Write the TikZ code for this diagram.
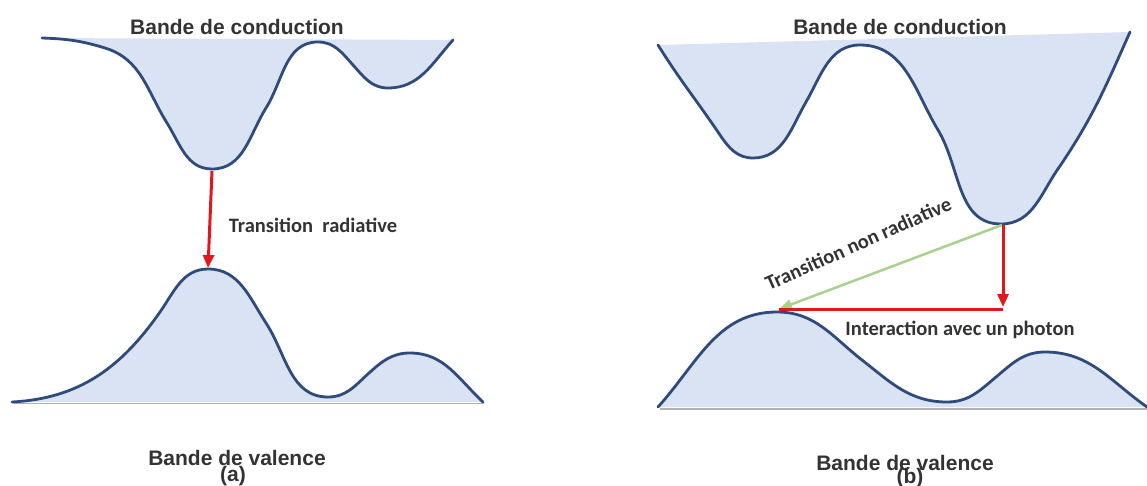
\documentclass[tikz,border=0pt]{standalone}
\usepackage{fontspec}
\setmainfont{Liberation Sans}
\newfontfamily\calfont{Carlito}
\usetikzlibrary{arrows.meta}
\definecolor{bandfill}{HTML}{DAE3F3}
\definecolor{bandline}{HTML}{2F4B7C}
\definecolor{txtgray}{HTML}{333333}
\definecolor{arrred}{HTML}{E3161C}
\definecolor{arrgreen}{HTML}{A9D18E}
\tikzset{
  bandarea/.style={fill=bandfill},
  bandcurve/.style={draw=bandline, line width=2.8pt, line cap=round, line join=round},
  baseshadow/.style={draw=gray!60, line width=1.5pt},
  bandlabel/.style={text=txtgray, font=\fontsize{21}{21}\selectfont\bfseries, inner sep=0pt},
  translabel/.style={text=txtgray, font=\calfont\fontsize{20.5}{20.5}\selectfont\bfseries, inner sep=0pt},
  redarrow/.style={draw=arrred, line width=3pt, -{Triangle[length=13pt,width=11pt]}},
  redline/.style={draw=arrred, line width=3pt},
  greenarrow/.style={draw=arrgreen, line width=2.5pt, -{Triangle[length=13pt,width=10pt]}}
}
% band outlines (coordinates: y grows downward; angles are visual, up = 90)
\def\condA{(42,38) to[out=-2,in=163] (105,48) to[out=-17,in=122] (167,123) to[out=-58,in=180] (212,169)
  to[out=0,in=238] (266,108) to[out=58,in=180] (318,42)
  to[out=0,in=132] (353,65) to[out=-48,in=180] (388,88) to[out=0,in=228] (453,40)}
\def\valA{(12,402) to[out=3,in=235] (160,312) to[out=55,in=180] (208,269)
  to[out=0,in=123] (266,323) to[out=-57,in=180] (328,397)
  to[out=0,in=222] (369,373) to[out=42,in=180] (410,353) to[out=0,in=137] (483,402)}
\def\condB{(658,45) to[out=-58,in=124] (720,135) to[out=-56,in=180] (753,158)
  to[out=0,in=240] (806,102) to[out=60,in=180] (860,45)
  to[out=0,in=121] (938,130) to[out=-59,in=180] (1001,224)
  to[out=0,in=234] (1060,166) to[out=56,in=246] (1130,32)}
\def\valB{(658,407) to[out=48,in=180] (777,312)
  to[out=0,in=142] (862,360) to[out=-38,in=180] (947,402)
  to[out=0,in=220] (996,377) to[out=40,in=180] (1045,352) to[out=0,in=145] (1147,407)}
\begin{document}
\begin{tikzpicture}[x=1pt,y=-1pt]
\useasboundingbox (0,0) rectangle (1147,486);

% ---------------- (a) ----------------
\fill[bandarea] \condA -- cycle;
\draw[bandcurve] \condA;

\draw[baseshadow] (14,403.5) -- (484,403.5);
\fill[bandarea] \valA -- cycle;
\draw[bandcurve] \valA;

\coordinate (cminA) at (212,171);
\coordinate (vmaxA) at (208,268);
\draw[redarrow] (cminA) -- (vmaxA);

\node[bandlabel] (condAlab) at (237,27) {Bande de conduction};
\node[translabel] (radA) at (313,225) {Transition\ \ radiative};
\node[bandlabel] (valAlab) at (237,458) {Bande de valence};
\node[bandlabel] (labA) at (233,476) {(a)};

% ---------------- (b) ----------------
\fill[bandarea] \condB -- cycle;
\draw[bandcurve] \condB;

\draw[baseshadow] (660,409) -- (1147,409);
\fill[bandarea] \valB -- cycle;
\draw[bandcurve] \valB;

\coordinate (cminB) at (1002,225);
\coordinate (vmaxB) at (779,309);
\coordinate (cornerB) at (1003,309);
\coordinate (redtopB) at (1003,225);
\coordinate (redtipB) at (1003,307);
\draw[greenarrow] (cminB) -- (vmaxB);
\draw[redarrow] (redtopB) -- (redtipB);
\draw[redline] (cornerB) -- (vmaxB);

\node[bandlabel] (condBlab) at (900,27) {Bande de conduction};
\node[translabel, rotate=24, anchor=base] (nonradB) at (861,250) {Transition non radiative};
\node[translabel] (photB) at (960,330) {Interaction avec un photon};
\node[bandlabel] (valBlab) at (905,463) {Bande de valence};
\node[bandlabel] (labB) at (910,478) {(b)};
\end{tikzpicture}
\end{document}
